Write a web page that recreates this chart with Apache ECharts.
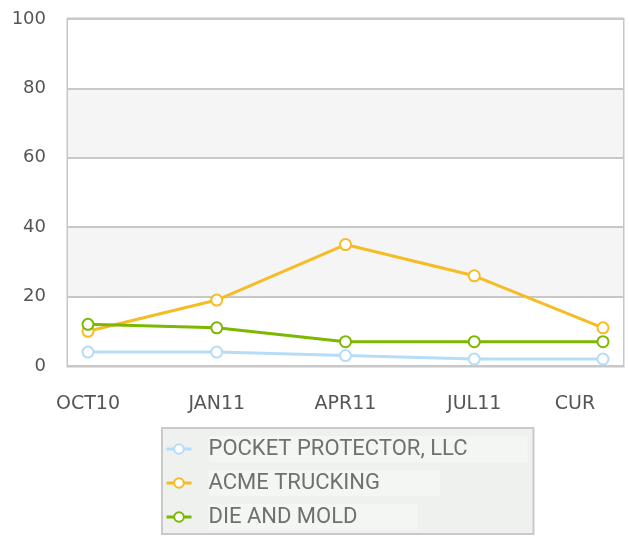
<!DOCTYPE html>
<html>
<head>
<meta charset="UTF-8">
<script src="https://cdn.jsdelivr.net/npm/echarts@6/dist/echarts.min.js"></script>
<style>
  html, body { margin: 0; padding: 0; background: #fff; }
  #chart { width: 629px; height: 539px; }
</style>
</head>
<body>
<div id="chart"></div>
<script>
// Datos
const categories = ['OCT10', 'JAN11', 'APR11', 'JUL11', 'CUR'];
const pocketProtector = [4, 4, 3, 2, 2];
const acmeTrucking = [10, 19, 35, 26, 11];
const dieAndMold = [12, 11, 7, 7, 7];
const seriesNames = ['POCKET PROTECTOR, LLC', 'ACME TRUCKING', 'DIE AND MOLD'];
const seriesColors = ['#b5dcf8', '#f6bc25', '#7cb800'];

const chart = echarts.init(document.getElementById('chart'));

const mkSeries = (name, data, color) => ({
  name,
  type: 'line',
  xAxisIndex: 1,
  yAxisIndex: 1,
  data,
  symbol: 'emptyCircle',
  symbolSize: 11,
  lineStyle: { width: 3, color },
  itemStyle: { color, borderWidth: 2 },
  emphasis: { disabled: true },
  z: 3
});

// CUR label sits a bit left of its point
const xLabels = categories.map(c =>
  c === 'CUR' ? { value: c, textStyle: { padding: [0, 56, 0, 0] } } : c
);

const option = {
  animation: false,
  grid: [
    { left: 68, right: 6, top: 19, bottom: 173, show: true, borderWidth: 3, borderColor: '#c6c6c6', backgroundColor: 'transparent' },
    { left: 88, right: 26, top: 19, bottom: 173 }
  ],
  xAxis: [
    { type: 'category', gridIndex: 0, data: categories, show: false },
    {
      type: 'category', gridIndex: 1, data: xLabels, boundaryGap: false,
      axisLine: { show: false }, axisTick: { show: false }, splitLine: { show: false },
      axisLabel: { margin: 29, color: '#555', fontFamily: 'DejaVu Sans', fontSize: 19 }
    }
  ],
  yAxis: [
    {
      type: 'value', gridIndex: 0, min: 0, max: 100, interval: 20,
      axisLine: { show: false }, axisTick: { show: false },
      axisLabel: { margin: 22, color: '#555', fontFamily: 'DejaVu Sans', fontSize: 18 },
      splitLine: { lineStyle: { color: '#c8c8c8', width: 2 } },
      splitArea: { show: true, areaStyle: { color: ['#ffffff', '#f5f5f5'] } }
    },
    { type: 'value', gridIndex: 1, min: 0, max: 100, show: false }
  ],
  legend: {
    orient: 'vertical',
    left: 162,
    top: 428,
    padding: [8, 6, 4, 3],
    itemGap: 8,
    itemWidth: 25,
    itemHeight: 12,
    backgroundColor: '#eef1ed',
    borderColor: '#c9c9c9',
    borderWidth: 2,
    lineStyle: { width: 3 },
    data: seriesNames,
    formatter: name => '{s|}{t|' + name + '}',
    textStyle: {
      rich: {
        s: { width: 12, height: 26 },
        t: {
          fontFamily: 'Roboto', fontSize: 22, color: '#707070', height: 26, lineHeight: 26,
          backgroundColor: '#f4f6f3', padding: [0, 60, 0, 0]
        }
      }
    }
  },
  series: [
    mkSeries(seriesNames[0], pocketProtector, seriesColors[0]),
    mkSeries(seriesNames[1], acmeTrucking, seriesColors[1]),
    mkSeries(seriesNames[2], dieAndMold, seriesColors[2])
  ]
};

chart.setOption(option);
</script>
</body>
</html>
